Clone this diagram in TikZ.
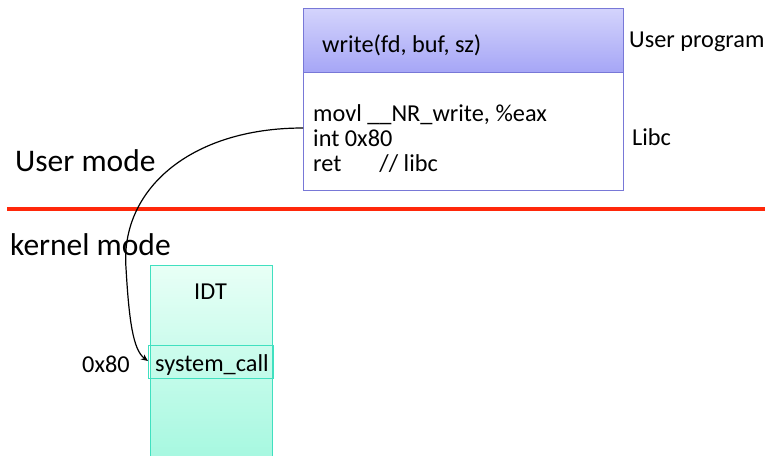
\documentclass[tikz,border=0pt]{standalone}
\usepackage{fontspec}
\setmainfont{Carlito}
\usetikzlibrary{arrows.meta}
\definecolor{boxblue}{RGB}{120,120,215}
\definecolor{hdrtop}{RGB}{212,212,252}
\definecolor{hdrbot}{RGB}{166,166,246}
\definecolor{teal}{RGB}{64,224,192}
\definecolor{idttop}{RGB}{232,255,246}
\definecolor{idtbot}{RGB}{166,248,224}
\definecolor{modered}{RGB}{255,40,10}
\tikzset{
  lbl/.style={inner sep=0pt, anchor=base west, font=\fontsize{24.3}{28}\selectfont},
  big/.style={inner sep=0pt, anchor=base west, font=\fontsize{31.5}{36}\selectfont},
}
\begin{document}
\begin{tikzpicture}[x=1pt,y=-1pt]
\useasboundingbox (0,0) rectangle (765,455);
% user program box
\shade[top color=hdrtop, bottom color=hdrbot] (303,8) rectangle (623,72);
\node[draw=boxblue, line width=0.8pt, minimum width=320pt, minimum height=182pt, anchor=north west, inner sep=0pt] (prog) at (303,8) {};
\draw[boxblue, line width=0.8pt] (303,72) -- (623,72);
\node[lbl] (write) at (322,52) {write(fd, buf, sz)};
\node[lbl] (l1) at (313,121) {movl \_\_NR\_write, \%eax};
\node[lbl] (l2) at (313,146) {int 0x80};
\node[lbl] (l3) at (313,171) {ret\hspace{38pt}// libc};
\node[lbl] (up) at (629,47) {User program};
\node[lbl] (libc) at (632,145) {Libc};
% mode line
\coordinate (r1) at (7,209);
\coordinate (r2) at (765,209);
\draw[modered, line width=3.5pt] (r1) -- (r2);
\node[big] (um) at (15,171) {User mode};
\node[big] (km) at (10,255) {kernel mode};
% IDT
\shade[top color=idttop, bottom color=idtbot] (150,265) rectangle (272,460);
\draw[teal, line width=0.8pt] (150,460) -- (150,265) -- (272,265) -- (272,460);
\node[lbl] (idt) at (194,299) {IDT};
\node[draw=teal, line width=0.8pt, minimum width=125pt, minimum height=33pt, anchor=north west, inner sep=0pt] (sc) at (148,345) {};
\node[lbl] (sct) at (155,371) {system\_call};
\node[lbl] (hex) at (82,372) {0x80};
% arrow
\coordinate (start) at (303,128);
\coordinate (mid) at (126,268);
\coordinate (tip) at (148,361);
\draw[line width=1.2pt, -{Stealth[length=7pt,width=6pt]}] (start) .. controls (190,128) and (120,190) .. (mid) .. controls (129,320) and (133,350) .. (tip);
\end{tikzpicture}
\end{document}
